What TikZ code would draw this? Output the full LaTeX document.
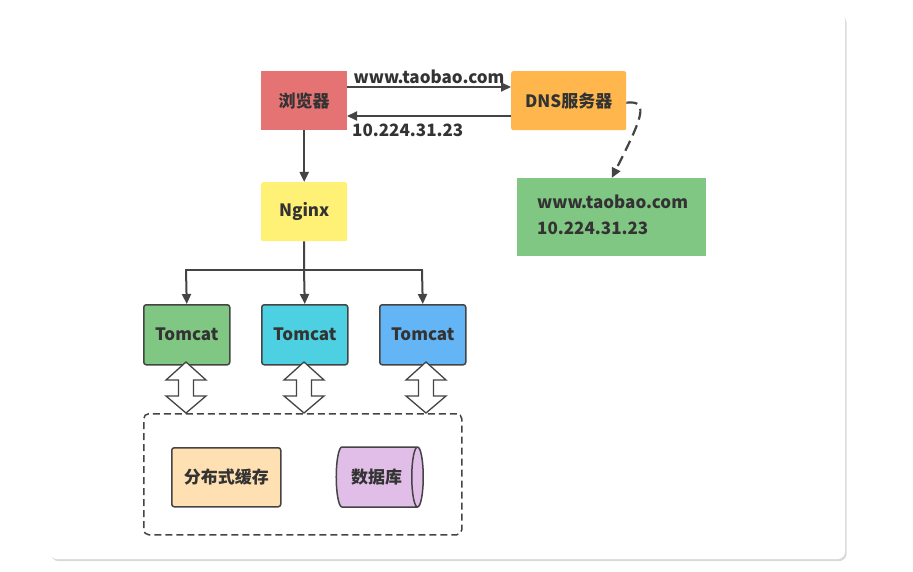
\documentclass[tikz,border=0pt]{standalone}
\usepackage{fontspec}
\setmainfont{Noto Sans CJK SC}
\usetikzlibrary{shapes.geometric,arrows.meta,shadows,calc}
\definecolor{txt}{HTML}{333333}
\definecolor{ln}{HTML}{444444}
\definecolor{cred}{HTML}{E57373}
\definecolor{corange}{HTML}{FFB74D}
\definecolor{cgreen}{HTML}{81C784}
\definecolor{cyellow}{HTML}{FFF176}
\definecolor{ccyan}{HTML}{4DD0E1}
\definecolor{cblue}{HTML}{64B5F6}
\definecolor{cpeach}{HTML}{FFE0B2}
\definecolor{cpurple}{HTML}{E1BEE7}
\newcommand\hollowdbl[1]{%
  \draw[dblarrow] (#1) ++(0,-25.5) -- ++(20,18) -- ++(-12.5,0) -- ++(0,16) -- ++(12.5,0)
    -- ++(-20,17) -- ++(-20,-17) -- ++(12.5,0) -- ++(0,-16) -- ++(-12.5,0) -- cycle;}
\begin{document}
\begin{tikzpicture}[x=1pt,y=-1pt,
  font=\fontsize{17}{20}\selectfont\bfseries, text=txt,
  flat/.style={rectangle, inner sep=0pt, text=txt},
  boxed/.style={rectangle, rounded corners=2.5pt, draw=ln, line width=1.5pt, inner sep=0pt, text=txt},
  conn/.style={draw=ln, line width=2pt, -{Triangle[length=10pt,width=9pt]}},
  dblarrow/.style={draw=ln, line width=1.3pt, fill=white, line join=miter}
]
\useasboundingbox (0,0) rectangle (913,572);
\node[rectangle, rounded corners=8pt, fill=white, minimum width=796pt, minimum height=546pt, anchor=north west,
  drop shadow={shadow xshift=1.5pt, shadow yshift=-2pt, opacity=0.3, fill=black!50}] (card) at (49,13) {};

\node[flat, fill=cred, minimum width=86pt, minimum height=59pt, anchor=north west] (browser) at (261,71) {浏览器};
\node[flat, fill=corange, minimum width=115pt, minimum height=59pt, anchor=north west, rounded corners=2pt] (dns) at (511,71) {DNS服务器};
\node[flat, fill=cgreen, minimum width=189pt, minimum height=78pt, anchor=north west] (res) at (517,178) {};
\node[anchor=west, inner sep=0pt, align=left, text=txt, font=\fontsize{17}{26}\selectfont\bfseries] (restxt) at (537,215) {www.taobao.com\\10.224.31.23};
\node[flat, fill=cyellow, minimum width=86pt, minimum height=59pt, anchor=north west, rounded corners=2pt] (nginx) at (261,182) {Nginx};

\node[boxed, fill=cgreen, minimum width=86pt, minimum height=60pt, anchor=north west] (t1) at (143,304) {Tomcat};
\node[boxed, fill=ccyan, minimum width=86pt, minimum height=60pt, anchor=north west] (t2) at (261,304) {Tomcat};
\node[boxed, fill=cblue, minimum width=86pt, minimum height=60pt, anchor=north west] (t3) at (379,304) {Tomcat};

\node[rectangle, rounded corners=5pt, draw=ln, line width=1.5pt, dash pattern=on 7pt off 4pt, minimum width=318pt, minimum height=121pt, anchor=north west] (store) at (143,413) {};
\node[boxed, fill=cpeach, minimum width=109pt, minimum height=59pt, anchor=north west] (cache) at (171,447) {分布式缓存};
\node[cylinder, draw=ln, line width=1.5pt, fill=cpurple, minimum width=60pt, minimum height=87pt, aspect=0.7, inner sep=0pt, text=txt, shape border rotate=0] (db) at (376.5,477) {数据库};

% connectors
\coordinate (a1s) at (347,87);
\coordinate (a1e) at (511,87);
\draw[conn] (a1s) -- (a1e) node[midway, above=2pt, inner sep=0pt] (lab1) {www.taobao.com};
\coordinate (a2s) at (511,116);
\coordinate (a2e) at (347,116);
\draw[conn] (a2s) -- (a2e);
\node[anchor=north west, inner sep=0pt] (lab2) at (352,124) {10.224.31.23};

\draw[conn, line width=2.2pt, dash pattern=on 11pt off 6pt] (dns.east) ++(0,2) .. controls (650,100) and (642,118) .. (res.north);

\draw[conn] (browser.south) -- (nginx.north);
\coordinate (split) at (304,270);
\coordinate (l1) at (186,270);
\coordinate (l3) at (422,270);
\draw[draw=ln, line width=2pt] (nginx.south) -- (split);
\draw[draw=ln, line width=2pt, line cap=rect] (l1) -- (l3);
\draw[conn] (l1) -- (t1.north);
\draw[conn] (split) -- (t2.north);
\draw[conn] (l3) -- (t3.north);

\coordinate (d1) at (186,387.5);
\coordinate (d2) at (304,387.5);
\coordinate (d3) at (426,387.5);
\hollowdbl{d1}
\hollowdbl{d2}
\hollowdbl{d3}
\end{tikzpicture}
\end{document}
